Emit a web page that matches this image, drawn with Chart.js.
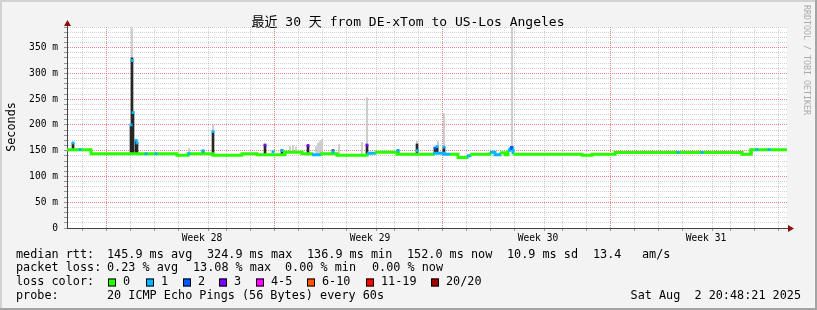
<!DOCTYPE html>
<html>
<head>
<meta charset="utf-8">
<title>最近 30 天 from DE-xTom to US-Los Angeles</title>
<script src="https://cdn.jsdelivr.net/npm/chart.js@4.4.1/dist/chart.umd.min.js"></script>
<style>
  html, body { margin: 0; padding: 0; background: #f3f3f3; }
  #chart { display: block; }
</style>
</head>
<body>
<canvas id="chart" width="817" height="310"></canvas>
<script>
// x axis is in hours since the start of the 30 day window (720 h)
const weekNames = ['Week 28', 'Week 29', 'Week 30', 'Week 31'];
const weekLabelHours = [135, 303, 471, 639];
const weekStartHours = [51, 219, 387, 555];
const midnightHours = [3, 27, 51, 75, 99, 123, 147, 171, 195, 219, 243, 267, 291, 315, 339,
    363, 387, 411, 435, 459, 483, 507, 531, 555, 579, 603, 627, 651, 675, 699];

// loss colours (index = loss level)
const lossColors = ['#26ff00', '#00b8ff', '#0059ff', '#7e00ff', '#ff00ff', '#ff5500', '#ff0000', '#a10000'];
const lossLabels = ['0', '1', '2', '3', '4-5', '6-10', '11-19', '20/20'];

// median rtt (ms), value holds until the next hour in the list
const medianHours = [0, 24, 110, 121, 146, 175, 190, 218, 235, 245, 253, 270, 300, 308, 330,
    366, 377, 383, 391, 400, 403, 423, 428, 433, 438, 441, 443, 445, 446, 515, 525, 548, 675, 684, 720];
const medianMs = [152, 144, 141, 144, 141, 144, 142, 147, 144, 142, 144, 141, 145, 147, 143,
    145, 143, 143, 137, 140, 143, 147, 142, 146, 142, 151, 156, 151, 143, 141, 143, 146.5, 143, 152, 152];
const medianLoss = [0, 0, 0, 0, 0, 0, 0, 0, 0, 1, 0, 0, 1, 0, 0,
    1, 1, 0, 0, 1, 0, 1, 1, 0, 0, 1, 2, 1, 0, 0, 0, 0, 0, 0, 0];

// median spikes with loss (coloured ticks)
const tipHours = [6, 13, 64, 65, 66, 69, 70, 79, 89, 122, 136, 146, 198, 206, 215, 241, 266,
    300, 331, 350, 368, 370, 377, 611, 635, 690, 702];
const tipMs = [165, 152, 200, 325, 224, 170, 165, 144, 144, 144, 150, 187, 161, 148, 150, 160, 148,
    161, 150, 150, 155, 158, 157, 146.5, 146.5, 152, 152];
const tipLoss = [1, 1, 1, 1, 1, 1, 1, 1, 1, 1, 1, 1, 3, 1, 1, 3, 1,
    3, 1, 1, 2, 1, 1, 1, 1, 1, 1];

// dense smoke (dark)
const darkHours = [6, 64, 65, 66, 69, 70, 136, 146, 198, 215, 241, 266, 300, 331, 350, 368, 370, 377, 684];
const darkLow = [152, 144, 144, 144, 144, 144, 144, 141, 142, 142, 142, 144, 141, 143, 143, 145, 145, 143, 143];
const darkHigh = [165, 200, 330, 226, 170, 165, 150, 187, 161, 152, 160, 152, 161, 152, 163, 156, 158, 157, 153];

// sparse smoke (light)
const lightHours = [65, 122, 146, 223, 226, 229, 249, 251, 253, 255, 272, 295, 300, 350, 371, 377, 445];
const lightLow = [144, 144, 141, 147, 147, 147, 142, 142, 144, 144, 141, 141, 141, 143, 145, 143, 151];
const lightHigh = [389, 154, 200, 158, 160, 157, 158, 165, 168, 171, 162, 166, 253, 168, 168, 222, 390];

const mono = '"DejaVu Sans Mono", "Noto Sans CJK SC", monospace';
const majorGrid = 'rgba(230, 80, 80, 0.7)';
const minorGrid = 'rgba(150, 150, 150, 0.45)';

// Frame, title, legend text
const rrdFrame = {
    id: 'rrdFrame',
    beforeDraw(chart) {
        const { ctx, chartArea: a, width, height } = chart;
        ctx.save();
        ctx.fillStyle = '#f3f3f3';
        ctx.fillRect(0, 0, width, height);
        ctx.fillStyle = '#ffffff';
        ctx.fillRect(a.left, a.top, a.right - a.left, a.bottom - a.top);
        ctx.restore();
    },
    afterDraw(chart) {
        const { ctx, chartArea: a, width, height } = chart;
        ctx.save();

        // axis extensions + arrows
        ctx.strokeStyle = '#444';
        ctx.lineWidth = 1;
        ctx.beginPath();
        ctx.moveTo(a.right, a.bottom + 0.5);
        ctx.lineTo(a.right + 3, a.bottom + 0.5);
        ctx.moveTo(a.left + 0.5, a.top);
        ctx.lineTo(a.left + 0.5, a.top - 2);
        ctx.stroke();
        ctx.fillStyle = '#8b1010';
        ctx.beginPath();
        ctx.moveTo(a.right + 1, a.bottom - 3);
        ctx.lineTo(a.right + 7, a.bottom + 0.5);
        ctx.lineTo(a.right + 1, a.bottom + 4);
        ctx.closePath();
        ctx.fill();
        ctx.beginPath();
        ctx.moveTo(a.left - 3, a.top - 1);
        ctx.lineTo(a.left + 0.5, a.top - 7);
        ctx.lineTo(a.left + 4, a.top - 1);
        ctx.closePath();
        ctx.fill();

        // title
        ctx.fillStyle = '#000';
        ctx.font = '13px ' + mono;
        ctx.textAlign = 'center';
        ctx.textBaseline = 'alphabetic';
        ctx.fillText('最近 30 天 from DE-xTom to US-Los Angeles', 408, 26);

        // y axis title
        ctx.save();
        ctx.translate(15, 127);
        ctx.rotate(-Math.PI / 2);
        ctx.font = '11.8px ' + mono;
        ctx.textAlign = 'center';
        ctx.fillText('Seconds', 0, 0);
        ctx.restore();

        // watermark
        ctx.save();
        ctx.translate(804, 5);
        ctx.rotate(Math.PI / 2);
        ctx.font = '8.3px ' + mono;
        ctx.fillStyle = '#aaaaaa';
        ctx.textAlign = 'left';
        ctx.fillText('RRDTOOL / TOBI OETIKER', 0, 0);
        ctx.restore();

        // legend
        ctx.font = '11.8px ' + mono;
        ctx.fillStyle = '#000';
        ctx.textAlign = 'left';
        const rows = [
            [['median rtt:', 16], ['145.9 ms avg', 107], ['324.9 ms max', 207], ['136.9 ms min', 307],
             ['152.0 ms now', 407], ['10.9 ms sd', 507], ['13.4', 593], ['am/s', 642]],
            [['packet loss:', 16], ['0.23 % avg', 107], ['13.08 % max', 193], ['0.00 % min', 285], ['0.00 % now', 372]],
            [['loss color:', 16]],
            [['probe:', 16], ['20 ICMP Echo Pings (56 Bytes) every 60s', 107]]
        ];
        rows.forEach((row, i) => {
            row.forEach(([t, x]) => ctx.fillText(t, x, 257.5 + i * 13.8));
        });
        const boxX = [108, 146, 183, 219, 256, 307, 366, 431];
        lossLabels.forEach((lbl, i) => {
            ctx.fillStyle = lossColors[i];
            ctx.fillRect(boxX[i], 278.5, 8, 8);
            ctx.strokeStyle = '#000';
            ctx.strokeRect(boxX[i] + 0.5, 278.5 + 0.5, 7, 7);
            ctx.fillStyle = '#000';
            ctx.fillText(lbl, boxX[i] + 15, 257.5 + 2 * 13.8);
        });
        ctx.textAlign = 'right';
        ctx.fillText('Sat Aug  2 20:48:21 2025', 801, 257.5 + 3 * 13.8);

        // 3d border
        ctx.fillStyle = '#d2d2d2';
        ctx.fillRect(0, 0, width, 2);
        ctx.fillRect(0, 0, 2, height);
        ctx.fillStyle = '#a4a4a4';
        ctx.fillRect(0, height - 2, width, 2);
        ctx.fillRect(width - 2, 0, 2, height);
        ctx.restore();
    }
};

const ctx = document.getElementById('chart').getContext('2d');
const chart = new Chart(ctx, {
    type: 'line',
    data: {
        datasets: [
            {
                type: 'bar',
                label: 'smoke',
                data: lightHours.map((h, i) => ({ x: h, y: [lightLow[i], lightHigh[i]] })),
                backgroundColor: '#c4c4c4',
                barThickness: 1,
                grouped: false,
                borderWidth: 0,
                order: 3
            },
            {
                type: 'bar',
                label: 'dense smoke',
                data: darkHours.map((h, i) => ({ x: h, y: [darkLow[i], darkHigh[i]] })),
                backgroundColor: '#262626',
                barThickness: 2,
                grouped: false,
                borderWidth: 0,
                order: 2
            },
            {
                label: 'median rtt',
                data: medianHours.map((h, i) => ({ x: h, y: medianMs[i] })),
                stepped: true,
                borderWidth: 3,
                borderColor: lossColors[0],
                pointRadius: 0,
                segment: {
                    borderColor: c => lossColors[medianLoss[c.p0DataIndex]]
                },
                order: 1
            },
            {
                label: 'loss',
                data: tipHours.map((h, i) => ({ x: h, y: tipMs[i] })),
                showLine: false,
                pointStyle: 'rect',
                pointRadius: 2,
                pointBorderWidth: 0,
                pointBackgroundColor: tipLoss.map(l => lossColors[l]),
                order: 0
            }
        ]
    },
    options: {
        responsive: false,
        animation: false,
        devicePixelRatio: 1,
        layout: { padding: { left: 10, right: 30, top: 27, bottom: 62 } },
        plugins: {
            legend: { display: false },
            title: { display: false },
            tooltip: { enabled: false }
        },
        scales: {
            x: {
                type: 'linear',
                min: 0,
                max: 720,
                offset: false,
                afterBuildTicks: axis => {
                    axis.ticks = midnightHours.concat(weekLabelHours)
                        .sort((p, q) => p - q)
                        .map(v => ({ value: v }));
                },
                afterFit: scale => { scale.height = 20; },
                ticks: {
                    autoSkip: false,
                    maxRotation: 0,
                    padding: 2,
                    color: '#000',
                    font: { family: mono, size: 9.6 },
                    callback: v => {
                        const k = weekLabelHours.indexOf(v);
                        return k >= 0 ? weekNames[k] : '';
                    }
                },
                grid: {
                    tickLength: 3,
                    color: c => {
                        const v = c.tick ? c.tick.value : null;
                        if (weekLabelHours.includes(v)) return 'rgba(0,0,0,0)';
                        return weekStartHours.includes(v) ? majorGrid : minorGrid;
                    },
                    tickColor: c => {
                        const v = c.tick ? c.tick.value : null;
                        return weekLabelHours.includes(v) ? 'rgba(0,0,0,0)' : '#999';
                    }
                },
                border: { display: true, color: '#444', width: 1, dash: [1, 1] }
            },
            y: {
                min: 0,
                max: 390,
                afterFit: scale => { scale.width = 57; },
                ticks: {
                    stepSize: 10,
                    autoSkip: false,
                    maxTicksLimit: 100,
                    padding: 6,
                    color: '#000',
                    font: { family: mono, size: 9.6 },
                    callback: v => (v % 50 === 0 ? (v === 0 ? '0' : v + ' m') : '')
                },
                grid: {
                    tickLength: 3,
                    color: c => (c.tick && c.tick.value % 50 === 0 ? majorGrid : minorGrid),
                    tickColor: '#999'
                },
                border: { display: true, color: '#444', width: 1, dash: [1, 1] }
            }
        }
    },
    plugins: [rrdFrame]
});
</script>
</body>
</html>
